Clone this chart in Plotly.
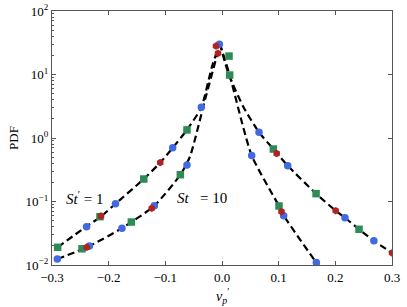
import plotly.graph_objects as go

# Dashed fitted curves
st1_left_x = [-0.29, -0.24, -0.2135, -0.188, -0.138, -0.109, -0.087, -0.062, -0.0365, -0.018, -0.004]
st1_left_y = [0.019, 0.040, 0.058, 0.092, 0.226, 0.41, 0.70, 1.34, 3.04, 13.0, 31]
st1_right_x = [-0.004, 0.012, 0.0376, 0.0653, 0.0906, 0.116, 0.166, 0.2006, 0.217, 0.2418, 0.268, 0.3]
st1_right_y = [31, 10.0, 3.1, 1.23, 0.67, 0.366, 0.133, 0.0716, 0.0556, 0.0365, 0.0241, 0.0155]
st10_left_x = [-0.2906, -0.236, -0.1765, -0.1194, -0.0735, -0.0565, -0.03, -0.008, -0.004]
st10_left_y = [0.0124, 0.0195, 0.038, 0.086, 0.264, 0.51, 4.0, 21.6, 31]
st10_right_x = [-0.004, 0.0135, 0.0524, 0.1006, 0.109, 0.1665, 0.172]
st10_right_y = [31, 9.8, 0.53, 0.085, 0.06, 0.0109, 0.0095]

# Markers
blue_x = [-0.239, -0.188, -0.087, -0.0365, -0.0047, 0.0653, 0.116, 0.217, 0.268,
          -0.2906, -0.234, -0.1765, -0.1194, -0.0618, 0.0524, 0.1088, 0.1665]
blue_y = [0.040, 0.092, 0.70, 3.04, 29.9, 1.23, 0.366, 0.0556, 0.0241,
          0.0124, 0.020, 0.038, 0.086, 0.376, 0.53, 0.0597, 0.0109]
green_x = [-0.29, -0.2153, -0.138, -0.0618, 0.0124, 0.0135, 0.0906, 0.166, 0.2418,
           -0.247, -0.160, -0.0735, 0.1006]
green_y = [0.019, 0.0577, 0.226, 1.34, 19.5, 9.8, 0.67, 0.133, 0.0365,
           0.018, 0.0475, 0.264, 0.085]
red_x = [-0.2135, -0.109, -0.0106, -0.007, 0.0965, 0.2006, 0.3,
         -0.2388, -0.124, 0.105]
red_y = [0.059, 0.41, 28, 21.6, 0.57, 0.0716, 0.0155,
         0.019, 0.078, 0.069]

x_ticks = [-0.3, -0.2, -0.1, 0.0, 0.1, 0.2, 0.3]
x_ticklabels = ["\u22120.3", "\u22120.2", "\u22120.1", "0.0", "0.1", "0.2", "0.3"]
y_ticks = [0.01, 0.1, 1, 10, 100]
y_ticklabels = ["10<sup>\u22122</sup>", "10<sup>\u22121</sup>", "10<sup>0</sup>", "10<sup>1</sup>", "10<sup>2</sup>"]

FONT = "Liberation Serif"
AX = "#555555"

fig = go.Figure()
line_style = dict(color="black", width=2.2, dash="7px,4px", shape="spline", smoothing=0.6)
for xs, ys in [(st1_left_x, st1_left_y), (st1_right_x, st1_right_y),
               (st10_left_x, st10_left_y), (st10_right_x, st10_right_y)]:
    fig.add_trace(go.Scatter(x=xs, y=ys, mode="lines", line=line_style,
                             showlegend=False, hoverinfo="skip"))

fig.add_trace(go.Scatter(x=blue_x, y=blue_y, mode="markers", showlegend=False,
                         marker=dict(symbol="circle", size=7.5, color="#4169e1", line=dict(width=0))))
fig.add_trace(go.Scatter(x=green_x, y=green_y, mode="markers", showlegend=False,
                         marker=dict(symbol="square", size=7.5, color="#2e8b57", line=dict(width=0))))
fig.add_trace(go.Scatter(x=red_x, y=red_y, mode="markers", showlegend=False,
                         marker=dict(symbol="hexagon", size=7.5, color="#b22222", line=dict(width=0))))
# empty trace so the right-hand axis (major ticks only) gets drawn
fig.add_trace(go.Scatter(x=[], y=[], yaxis="y2", showlegend=False, hoverinfo="skip"))

minor_vals = []
for k in [-2, -1, 0, 1]:
    for m in range(2, 10):
        minor_vals.append(m * 10 ** k)

fig.add_annotation(x=-0.242, y=-0.945, xref="x", yref="y", showarrow=False,
                   text="<i>St</i><sup>\u2032</sup> = 1", font=dict(family=FONT, size=15, color="black"))
fig.add_annotation(x=-0.035, y=-0.945, xref="x", yref="y", showarrow=False,
                   text="<i>St</i>   = 10", font=dict(family=FONT, size=15, color="black"))
fig.add_annotation(x=0.5, y=-0.075, xref="paper", yref="paper", yanchor="top", showarrow=False,
                   text="<i>v</i><sub><i>p</i></sub><sup>\u2032</sup>", font=dict(family=FONT, size=14, color="black"))
fig.add_annotation(x=-0.115, y=0.5, xref="paper", yref="paper", xanchor="center", showarrow=False,
                   textangle=-90, text="PDF", font=dict(family=FONT, size=13, color="black"))

fig.update_layout(
    width=407, height=307,
    margin=dict(l=52, r=15, t=11, b=42, autoexpand=False),
    paper_bgcolor="white", plot_bgcolor="white",
    font=dict(family=FONT, size=13, color="black"),
    xaxis=dict(range=[-0.3, 0.3], tickvals=x_ticks, ticktext=x_ticklabels, automargin=False,
               ticks="inside", ticklen=4, tickcolor=AX, showgrid=False, zeroline=False,
               showline=True, linecolor=AX, linewidth=1.2, mirror="ticks"),
    yaxis=dict(type="log", range=[-2, 2], tickvals=y_ticks, ticktext=y_ticklabels, automargin=False,
               ticks="inside", ticklen=4, tickcolor=AX, showgrid=False, zeroline=False,
               showline=True, linecolor=AX, linewidth=1.2, mirror=True,
               minor=dict(tickvals=minor_vals, ticks="inside", ticklen=2, tickcolor=AX, showgrid=False)),
    yaxis2=dict(type="log", range=[-2, 2], overlaying="y", side="right", anchor="x", automargin=False,
                tickvals=y_ticks, showticklabels=False, ticks="inside", ticklen=4,
                tickcolor=AX, showgrid=False, zeroline=False, showline=False),
)

fig.write_html("out.html", config={"displayModeBar": False},
               post_script="document.body.style.margin='0';document.body.style.overflow='hidden';")
